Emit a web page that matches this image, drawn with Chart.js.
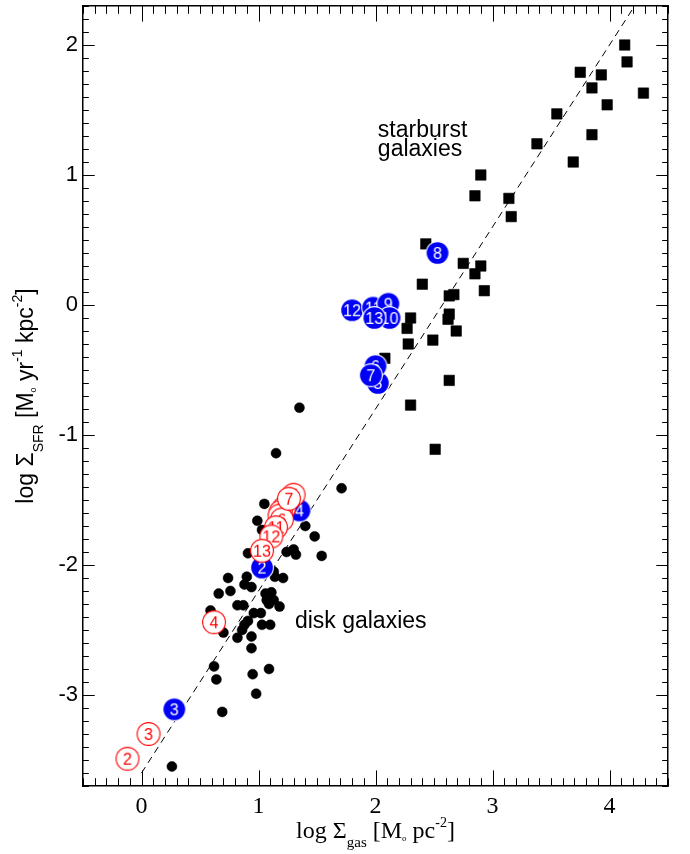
<!DOCTYPE html>
<html>
<head>
<meta charset="utf-8">
<script src="https://cdn.jsdelivr.net/npm/chart.js@4/dist/chart.umd.min.js"></script>
<style>
  html, body { margin: 0; padding: 0; background: #fff; }
  canvas { display: block; }
</style>
</head>
<body>
<canvas id="ks" width="690" height="854"></canvas>
<script>
// Star-formation law: SFR surface density against gas surface density

// disk galaxies (filled dots)
const diskGas = [0.26, 0.69, 0.62, 0.64, 0.98, 0.95, 1.09, 0.94, 0.94, 0.82,
                 0.70, 0.59, 0.66, 0.76, 0.82, 0.87, 0.88, 0.94, 1.03, 1.10,
                 0.96, 1.02, 1.06, 1.11, 1.07, 1.13, 1.18, 1.09, 0.86, 0.88,
                 0.91, 1.05, 0.99, 1.40, 1.48, 1.54, 1.24, 1.30, 1.32, 0.91,
                 0.74, 0.90, 1.14, 1.21, 1.13, 1.35, 1.15, 1.71, 1.03];
const diskSfr = [-3.55, -3.13, -2.78, -2.88, -2.99, -2.84, -2.80, -2.64, -2.55, -2.56,
                 -2.52, -2.35, -2.22, -2.20, -2.31, -2.31, -2.15, -2.17, -2.46, -2.46,
                 -2.37, -2.37, -2.22, -2.21, -2.27, -2.27, -2.32, -2.30, -2.50, -2.46,
                 -2.43, -1.53, -1.66, -1.70, -1.78, -1.93, -1.90, -1.88, -1.92, -1.91,
                 -2.10, -2.09, -2.09, -2.10, -2.05, -0.79, -1.14, -1.41, -1.73];

// starburst galaxies (filled squares)
const burstGas = [4.13, 4.15, 3.75, 3.93, 3.85, 4.29, 3.98, 3.55, 3.85, 3.38,
                  3.69, 2.90, 2.85, 3.14, 3.16, 2.43, 2.75, 2.90, 2.85, 2.93,
                  2.40, 2.63, 2.67, 2.63, 2.62, 2.69, 2.30, 2.27, 2.28, 2.49,
                  2.08, 2.63, 2.30, 2.51];
const burstSfr = [2.00, 1.87, 1.79, 1.77, 1.67, 1.63, 1.54, 1.47, 1.31, 1.24,
                  1.10, 1.00, 0.84, 0.82, 0.68, 0.47, 0.32, 0.30, 0.24, 0.11,
                  0.16, 0.07, 0.08, -0.07, -0.11, -0.20, -0.10, -0.18, -0.30, -0.27,
                  -0.41, -0.58, -0.77, -1.11];

// numbered sample, filled blue markers (listed bottom-most first)
const blueIds = ['5', '6', '7', '12', '11', '9', '10', '13', '8', '2', '3', '4'];
const blueGas = [2.02, 2.00, 1.96, 1.80, 1.98, 2.11, 2.12, 1.99, 2.53, 1.03, 0.28, 1.35];
const blueSfr = [-0.60, -0.47, -0.54, -0.04, -0.02, 0.01, -0.10, -0.10, 0.40, -2.02, -3.11, -1.58];

// numbered sample, open red markers (listed bottom-most first)
const redIds = ['5', '10', '9', '8', '6', '7', '11', '12', '13', '4', '3', '2'];
const redGas = [1.30, 1.22, 1.19, 1.18, 1.20, 1.26, 1.15, 1.11, 1.03, 0.62, 0.06, -0.12];
const redSfr = [-1.46, -1.56, -1.59, -1.62, -1.65, -1.49, -1.71, -1.78, -1.89, -2.44, -3.30, -3.49];

// Schmidt law, slope 1.4
const lawGas = [0, 4.214];
const lawSfr = [-3.6, 2.3];

// axes
const xRange = [-0.5, 4.5];
const yRange = [-3.7, 2.3];
const xTicks = [0, 1, 2, 3, 4];
const yTicks = [-3, -2, -1, 0, 1, 2];

const SANS = '"Liberation Sans", Arial, Helvetica, sans-serif';
const SERIF = '"Liberation Serif", "Times New Roman", Times, serif';

const pts = (xs, ys) => xs.map((x, i) => ({ x: x, y: ys[i] }));

// round numbered marker rendered into a small canvas used as a point style
function badge(text, fill, ring, ink) {
  const s = 28;
  const c = document.createElement('canvas');
  c.width = s; c.height = s;
  const g = c.getContext('2d');
  g.beginPath();
  g.arc(s / 2, s / 2, 11.4, 0, Math.PI * 2);
  g.fillStyle = fill;
  g.fill();
  g.lineWidth = 1.1;
  g.strokeStyle = ring;
  g.stroke();
  g.fillStyle = ink;
  g.font = '16px ' + SANS;
  g.textAlign = 'center';
  g.textBaseline = 'alphabetic';
  g.fillText(text, s / 2, s / 2 + 5.8);
  return c;
}
const blueStyles = blueIds.map(t => badge(t, '#0000f5', '#ffffff', '#ffffff'));
const redStyles = redIds.map(t => badge(t, '#ffffff', '#ff0000', '#ff0000'));

// text with sub/superscripts, centred on (x, y)
function richText(ctx, parts, x, y, rot) {
  ctx.save();
  ctx.translate(x, y);
  ctx.rotate(rot);
  ctx.textAlign = 'left';
  ctx.textBaseline = 'alphabetic';
  ctx.fillStyle = '#000';
  let w = 0;
  for (const p of parts) { ctx.font = p.font; w += ctx.measureText(p.text).width; }
  let cx = -w / 2;
  for (const p of parts) {
    ctx.font = p.font;
    ctx.fillText(p.text, cx, p.dy || 0);
    cx += ctx.measureText(p.text).width;
  }
  ctx.restore();
}

// inward tick marks on all four sides, minor every 0.1
const frameTicks = {
  id: 'frameTicks',
  afterDraw(chart) {
    const { ctx, chartArea: a, scales } = chart;
    const xs = scales.x, ys = scales.y;
    ctx.save();
    ctx.strokeStyle = '#000';
    ctx.lineWidth = 1;
    ctx.beginPath();
    for (let k = Math.ceil(xs.min * 10 - 1e-6); k <= Math.floor(xs.max * 10 + 1e-6); k++) {
      const px = Math.round(xs.getPixelForValue(k / 10)) + 0.5;
      const len = (k % 10 === 0) ? 15.6 : 7.8;
      ctx.moveTo(px, a.bottom); ctx.lineTo(px, a.bottom - len);
      ctx.moveTo(px, a.top); ctx.lineTo(px, a.top + len);
    }
    for (let k = Math.ceil(ys.min * 10 - 1e-6); k <= Math.floor(ys.max * 10 + 1e-6); k++) {
      const py = Math.round(ys.getPixelForValue(k / 10)) + 0.5;
      const len = (k % 10 === 0) ? 11.7 : 5.85;
      ctx.moveTo(a.left, py); ctx.lineTo(a.left + len, py);
      ctx.moveTo(a.right, py); ctx.lineTo(a.right - len, py);
    }
    ctx.stroke();
    ctx.restore();
  }
};

// axis titles and the two region labels
const labels = {
  id: 'labels',
  afterDraw(chart) {
    const { ctx, chartArea: a, scales } = chart;
    const xs = scales.x, ys = scales.y;
    const big = '23px ' + SANS;
    ctx.save();
    ctx.fillStyle = '#000';
    ctx.textAlign = 'left';
    ctx.textBaseline = 'alphabetic';
    ctx.font = big;
    ctx.fillText('starburst', xs.getPixelForValue(2.02), ys.getPixelForValue(1.292));
    ctx.fillText('galaxies', xs.getPixelForValue(2.02), ys.getPixelForValue(1.15));
    ctx.fillText('disk galaxies', xs.getPixelForValue(1.311), ys.getPixelForValue(-2.488));
    ctx.restore();

    richText(ctx, [
      { text: 'log \u03A3', font: big },
      { text: 'SFR', font: '14px ' + SANS, dy: 10 },
      { text: ' [M', font: big },
      { text: 'o', font: '9px ' + SANS, dy: 3 },
      { text: ' yr', font: big },
      { text: '-1', font: '14px ' + SANS, dy: -11 },
      { text: ' kpc', font: big },
      { text: '-2', font: '14px ' + SANS, dy: -11 },
      { text: ']', font: big }
    ], 33, (a.top + a.bottom) / 2, -Math.PI / 2);

    const ser = '24px ' + SERIF;
    richText(ctx, [
      { text: 'log \u03A3', font: ser },
      { text: 'gas', font: '15px ' + SERIF, dy: 9 },
      { text: ' [M', font: ser },
      { text: 'o', font: '9px ' + SERIF, dy: 3 },
      { text: ' pc', font: ser },
      { text: '-2', font: '14px ' + SERIF, dy: -11 },
      { text: ']', font: ser }
    ], (a.left + a.right) / 2, 838, 0);
  }
};

const frame = { display: true, color: '#000', width: 1.5 };
const noGrid = { display: false, drawTicks: false };
const noPad = s => { s.paddingTop = 0; s.paddingBottom = 0; s.paddingLeft = 0; s.paddingRight = 0; };

new Chart(document.getElementById('ks'), {
  type: 'scatter',
  data: {
    datasets: [
      {
        data: pts(redGas, redSfr),
        pointStyle: ctx => redStyles[ctx.dataIndex],
        pointRadius: 11,
        order: 1
      },
      {
        data: pts(blueGas, blueSfr),
        pointStyle: ctx => blueStyles[ctx.dataIndex],
        pointRadius: 11,
        order: 2
      },
      {
        data: pts(lawGas, lawSfr),
        showLine: true,
        borderColor: '#000',
        borderWidth: 1,
        borderDash: [7, 5],
        pointRadius: 0,
        fill: false,
        order: 3
      },
      {
        data: pts(burstGas, burstSfr),
        pointStyle: 'rect',
        pointRadius: 7.4,
        backgroundColor: '#000',
        borderColor: '#000',
        borderWidth: 0.6,
        order: 4
      },
      {
        data: pts(diskGas, diskSfr),
        pointStyle: 'circle',
        pointRadius: 5,
        backgroundColor: '#000',
        borderColor: '#000',
        borderWidth: 0.5,
        order: 5
      }
    ]
  },
  options: {
    responsive: false,
    animation: false,
    events: [],
    layout: { padding: 0, autoPadding: false },
    plugins: { legend: { display: false }, tooltip: { enabled: false } },
    scales: {
      x: {
        type: 'linear', position: 'bottom', min: xRange[0], max: xRange[1],
        grid: noGrid, border: frame,
        ticks: { color: '#000', font: { family: SERIF, size: 24 }, padding: 6, autoSkip: false, maxRotation: 0 },
        afterBuildTicks: s => { s.ticks = xTicks.map(v => ({ value: v })); },
        afterFit: s => { s.height = 68; noPad(s); }
      },
      xTop: {
        type: 'linear', axis: 'x', position: 'top', min: xRange[0], max: xRange[1],
        grid: noGrid, border: frame, ticks: { display: false },
        afterFit: s => { s.height = 6; noPad(s); }
      },
      y: {
        type: 'linear', position: 'left', min: yRange[0], max: yRange[1],
        grid: noGrid, border: frame,
        ticks: { color: '#000', font: { family: SANS, size: 22 }, padding: 5, autoSkip: false },
        afterBuildTicks: s => { s.ticks = yTicks.map(v => ({ value: v })); },
        afterFit: s => { s.width = 83; noPad(s); }
      },
      yRight: {
        type: 'linear', axis: 'y', position: 'right', min: yRange[0], max: yRange[1],
        grid: noGrid, border: frame, ticks: { display: false },
        afterFit: s => { s.width = 22; noPad(s); }
      }
    }
  },
  plugins: [frameTicks, labels]
});
</script>
</body>
</html>
